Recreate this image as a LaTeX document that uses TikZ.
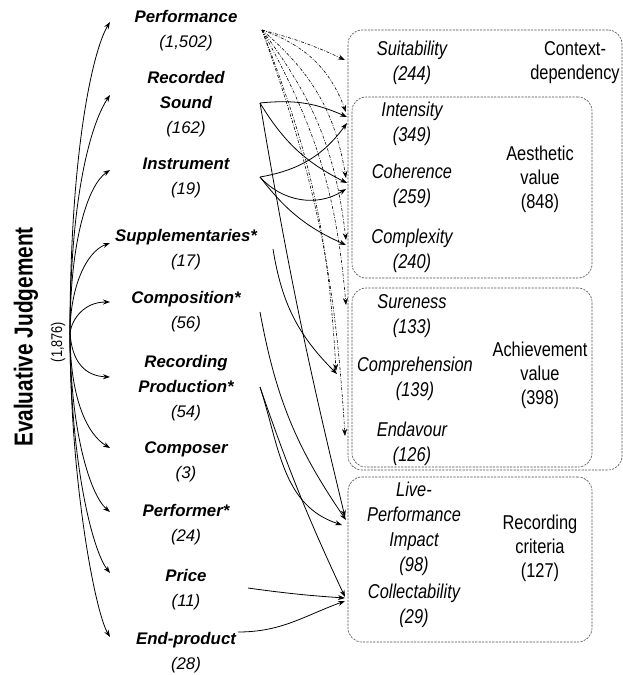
\documentclass[tikz,border=0pt]{standalone}
\usepackage{fontspec}
\setmainfont{Liberation Sans}
\newfontfamily\narrowfont[FakeStretch=0.82]{Liberation Sans}
\newfontfamily\titlefont[FakeStretch=0.8]{Liberation Sans}
\usetikzlibrary{arrows.meta}
\begin{document}
\begin{tikzpicture}[x=1pt,y=1pt,
  cat/.style={inner sep=0pt, align=center, font=\itshape\fontsize{16.8}{25}\selectfont},
  sub/.style={inner sep=0pt, align=center, font=\narrowfont\itshape\fontsize{20}{25}\selectfont},
  grp/.style={inner sep=0pt, align=center, font=\narrowfont\fontsize{20}{24}\selectfont},
  grpbox/.style={draw=black!70, line width=0.6pt, dash pattern=on 2.2pt off 1.2pt, rounded corners=14pt, inner sep=0pt},
  arr/.style={line width=0.8pt, -{Stealth[length=7pt,width=5pt]}},
  sol/.style={arr},
  dd/.style={line width=0.6pt, dash pattern=on 3pt off 1.5pt on 0.8pt off 1.5pt, -{Stealth[length=7pt,width=5pt]}}
]
\useasboundingbox (0,0) rectangle (623,-675);

% boxes
\node[grpbox, minimum width=274pt, minimum height=440pt] (ctxbox) at (485,-250) {};
\node[grpbox, minimum width=240pt, minimum height=181pt] (aesbox) at (472,-187.5) {};
\node[grpbox, minimum width=240pt, minimum height=179pt] (achbox) at (472,-377.5) {};
\node[grpbox, minimum width=244pt, minimum height=165pt] (recbox) at (470,-559.5) {};

% left title
\node[rotate=90, inner sep=0pt, font=\titlefont\bfseries\fontsize{26}{30}\selectfont] (ej) at (26,-337) {Evaluative Judgement};
\node[rotate=90, inner sep=0pt, font=\narrowfont\fontsize{15.5}{18}\selectfont] (ejn) at (58,-342) {(1,876)};
\coordinate (root) at (70,-333);

% categories
\node[cat] (perf) at (186,-31) {\textbf{Performance}\\(1,502)};
\node[cat] (recs) at (186,-104) {\textbf{Recorded}\\\textbf{Sound}\\(162)};
\node[cat] (inst) at (186,-178) {\textbf{Instrument}\\(19)};
\node[cat] (supp) at (186,-250) {\textbf{Supplementaries*}\\(17)};
\node[cat] (comp) at (186,-312) {\textbf{Composition*}\\(56)};
\node[cat] (recp) at (186,-388) {\textbf{Recording}\\\textbf{Production*}\\(54)};
\node[cat] (cmpr) at (186,-462) {\textbf{Composer}\\(3)};
\node[cat] (perfr) at (186,-525) {\textbf{Performer*}\\(24)};
\node[cat] (price) at (186,-590) {\textbf{Price}\\(11)};
\node[cat] (endp) at (186,-653) {\textbf{End-product}\\(28)};

% right labels
\node[sub] (suit) at (412,-63) {Suitability\\(244)};
\node[grp] (ctxl) at (575,-63) {Context-\\dependency};
\node[sub] (inten) at (412,-124) {Intensity\\(349)};
\node[sub] (coh) at (412,-186) {Coherence\\(259)};
\node[sub] (cplx) at (412,-251) {Complexity\\(240)};
\node[grp] (aes) at (540,-179) {Aesthetic\\value\\(848)};
\node[sub] (sure) at (412,-316) {Sureness\\(133)};
\node[sub] (compr) at (415,-379) {Comprehension\\(139)};
\node[sub] (endv) at (412,-444) {Endavour\\(126)};
\node[grp] (ach) at (540,-375) {Achievement\\value\\(398)};
\node[sub] (lpi) at (414,-529) {Live-\\Performance\\Impact\\(98)};
\node[sub] (coll) at (414,-606) {Collectability\\(29)};
\node[grp] (recc) at (540,-548) {Recording\\criteria\\(127)};

% arrow tips on the left
\coordinate (lPerf) at (110,-22);
\coordinate (lRecs) at (110,-95);
\coordinate (lInst) at (110,-170);
\coordinate (lSupp) at (110,-243);
\coordinate (lComp) at (110,-302);
\coordinate (lRecp) at (110,-377);
\coordinate (lCmpr) at (110,-448);
\coordinate (lPerfr) at (110,-512);
\coordinate (lPrice) at (110,-573);
\coordinate (lEndp) at (110,-637);

\draw[arr] (root) .. controls (70,-150) and (93,-50) .. (lPerf);
\draw[arr] (root) .. controls (70,-200) and (90,-125) .. (lRecs);
\draw[arr] (root) .. controls (70,-240) and (88,-185) .. (lInst);
\draw[arr] (root) .. controls (70,-290) and (85,-252) .. (lSupp);
\draw[arr] (root) .. controls (72,-318) and (85,-302) .. (lComp);
\draw[arr] (root) .. controls (72,-362) and (85,-376) .. (lRecp);
\draw[arr] (root) .. controls (70,-400) and (88,-435) .. (lCmpr);
\draw[arr] (root) .. controls (70,-430) and (90,-495) .. (lPerfr);
\draw[arr] (root) .. controls (70,-460) and (92,-550) .. (lPrice);
\draw[arr] (root) .. controls (70,-480) and (95,-612) .. (lEndp);

% connector start points
\coordinate (sP) at (262,-30);
\coordinate (sR) at (260,-103);
\coordinate (sI) at (260,-177);
\coordinate (sS) at (273,-249);
\coordinate (sC) at (260,-312);
\coordinate (sRP) at (260,-387);
\coordinate (sPr) at (248,-588);
\coordinate (sE) at (238,-632);

% connector end points
\coordinate (tSuit) at (345,-60);
\coordinate (tInt1) at (346,-112);
\coordinate (tInt2) at (347,-117);
\coordinate (tInt3) at (347,-123);
\coordinate (tCoh1) at (346,-178);
\coordinate (tCoh2) at (347,-183);
\coordinate (tCoh3) at (346,-189);
\coordinate (tCx1) at (346,-240);
\coordinate (tCx2) at (346,-245);
\coordinate (tSure) at (346,-305);
\coordinate (tComp1) at (336,-371);
\coordinate (tComp2) at (337,-374);
\coordinate (tEnd) at (345,-436);
\coordinate (tL1) at (345,-517);
\coordinate (tL2) at (346,-520);
\coordinate (tL3) at (342,-525);
\coordinate (tCo1) at (345,-597);
\coordinate (tCo2) at (345,-598);
\coordinate (tCo3) at (345,-601);

% dash-dot from Performance
\draw[dd] (sP) to[bend left=5] (tSuit);
\draw[dd] (sP) to[bend left=25] (tInt1);
\draw[dd] (sP) to[bend left=20] (tCoh1);
\draw[dd] (sP) to[bend left=15] (tCx1);
\draw[dd] (sP) to[bend left=12] (tSure);
\draw[dd] (sP) to[bend left=9] (tComp1);
\draw[dd] (sP) to[bend left=8] (tEnd);

% solid connectors
\draw[sol] (sR) to[bend left=15] (tInt2);
\draw[sol] (sR) to[bend right=16] (tCoh2);
\draw[sol] (sR) to[bend right=2] (tL1);
\draw[sol] (sI) to[bend right=22] (tInt3);
\draw[sol] (sI) to[bend right=40] (tCoh3);
\draw[sol] (sI) to[bend right=14] (tCx2);
\draw[sol] (sS) to[bend right=18] (tComp2);
\draw[sol] (sC) to[bend right=12] (tL2);
\draw[sol] (sRP) to[out=-72, in=162] (tL3);
\draw[sol] (sRP) to[bend right=3] (tCo1);
\draw[sol] (sPr) to[bend right=2] (tCo2);
\draw[sol] (sE) to[out=0, in=200] (tCo3);
\end{tikzpicture}
\end{document}
